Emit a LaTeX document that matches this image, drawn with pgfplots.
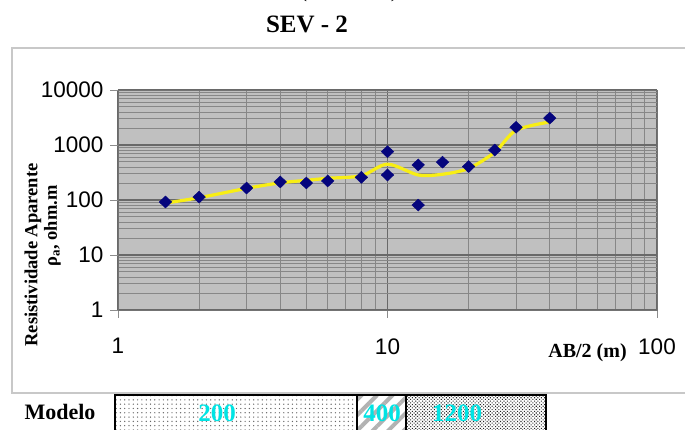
\documentclass[border=0pt]{standalone}
\usepackage{fontspec}
\setmainfont{Liberation Serif}
\newfontfamily\arial{Liberation Sans}
\usepackage{pgfplots}
\pgfplotsset{compat=1.18}
\usetikzlibrary{patterns,patterns.meta}
\definecolor{plotbg}{RGB}{192,192,192}
\definecolor{gridminor}{RGB}{135,135,135}
\definecolor{gridmajor}{RGB}{105,105,105}
\definecolor{navy}{RGB}{5,5,125}
\definecolor{yel}{RGB}{248,238,20}
\definecolor{cyantext}{RGB}{0,228,228}
\definecolor{border}{RGB}{200,200,200}
\begin{document}
\begin{tikzpicture}[x=1pt,y=1pt]
\useasboundingbox (0,0) rectangle (685,430);
\fill[white] (0,0) rectangle (685,430);
\draw[border, line width=1.2pt] (12,37) rectangle (700,382);
\node[anchor=base,font=\bfseries\fontsize{25}{30}\selectfont] at (307,397) {SEV - 2};
\node[anchor=base,font=\fontsize{25}{30}\selectfont] at (303,433) {(};
\node[anchor=base,font=\fontsize{25}{30}\selectfont] at (395,433) {)};
\begin{axis}[
  at={(118pt,120pt)}, anchor=south west,
  width=539pt, height=220pt, scale only axis,
  xmode=log, ymode=log,
  xmin=1, xmax=100, ymin=1, ymax=10000,
  axis background/.style={fill=plotbg},
  axis line style={draw=black!55, line width=0.8pt},
  xtick={1,10,100}, xticklabels={1,10,100},
  ytick={1,10,100,1000,10000}, yticklabels={1,10,100,1000,10000},
  minor xtick={2,3,4,5,6,7,8,9,20,30,40,50,60,70,80,90},
  minor ytick={2,3,4,5,6,7,8,9,20,30,40,50,60,70,80,90,200,300,400,500,600,700,800,900,2000,3000,4000,5000,6000,7000,8000,9000},
  grid=both,
  major grid style={draw=gridmajor, line width=1.4pt},
  minor grid style={draw=gridminor, line width=0.6pt},
  tick align=outside, tick pos=left,
  major tick length=8pt, minor tick length=0pt,
  tick style={draw=black!45, line width=0.8pt},
  ticklabel style={font=\arial\fontsize{22.5}{26}\selectfont},
  xticklabel style={yshift=-17pt},
  yticklabel style={xshift=-3pt},
  clip=false,
]
\addplot[only marks, mark=diamond*, mark size=6pt,
  mark options={xscale=1.4, fill=navy, draw=navy}] coordinates {
  (1.5,92) (2,113) (3,165) (4,213) (5,204) (6,222) (8,258)
  (10,756) (10,285) (13,434) (13,81) (16,487) (20,405)
  (25,810) (30,2100) (40,3080)
};
\addplot[yel, line width=3.2pt, smooth, tension=0.5, no marks] coordinates {
  (1.5,88) (2,110) (3,163) (4,205) (5,228) (6,248) (8,276)
  (10,448) (13,285) (16,294) (20,375) (25,740) (30,1850) (40,2620)
};
\end{axis}
\node[anchor=base,font=\bfseries\fontsize{20}{24}\selectfont] at (587.5,72) {AB/2 (m)};
\node[rotate=90,font=\bfseries\fontsize{18.5}{22}\selectfont] at (33,175) {Resistividade Aparente};
\node[rotate=90,font=\bfseries\fontsize{18.5}{22}\selectfont] at (52.5,204) {ρ\textsubscript{a}, ohm.m};
\node[anchor=base,font=\bfseries\fontsize{22}{26}\selectfont] at (60,10) {Modelo};
% model boxes
\fill[white] (115,-10) rectangle (546,35);
\fill[pattern={Dots[distance=4.3pt, radius=0.7pt]}, pattern color=black!60] (115,-10) rectangle (357,35);
\fill[pattern={Lines[angle=45, distance=11pt, line width=4pt]}, pattern color=black!30] (357,-10) rectangle (406,35);
\fill[pattern={Dots[distance=2.4pt, radius=0.75pt, angle=45]}, pattern color=black!85] (406,-10) rectangle (546,35);
\draw[black, line width=2pt] (115,-10) rectangle (357,35);
\draw[black, line width=2pt] (357,-10) rectangle (406,35);
\draw[black, line width=2pt] (406,-10) rectangle (546,35);
\node[font=\bfseries\fontsize{25}{30}\selectfont, text=cyantext] at (217,16.5) {200};
\node[font=\bfseries\fontsize{25}{30}\selectfont, text=cyantext] at (382,16.5) {400};
\node[font=\bfseries\fontsize{25}{30}\selectfont, text=cyantext] at (457,16.5) {1200};
\end{tikzpicture}
\end{document}
